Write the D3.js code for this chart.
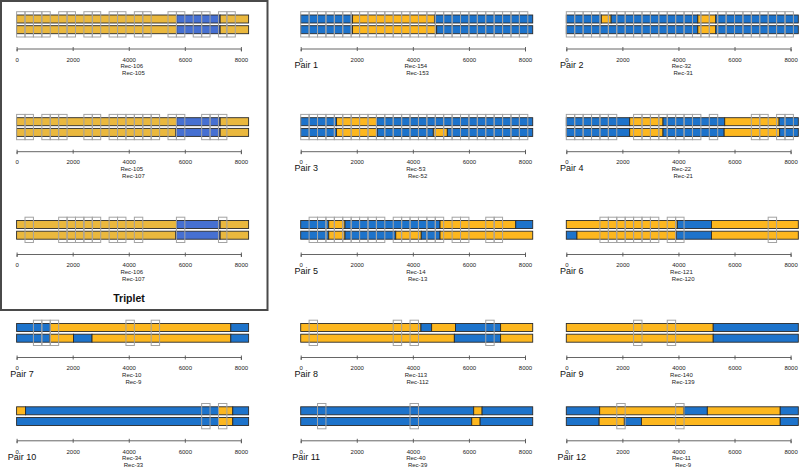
<!DOCTYPE html>
<html><head><meta charset="utf-8">
<script src="https://cdn.jsdelivr.net/npm/d3@7"></script>
<style>
body{margin:0;background:#fff}
svg{display:block;background:#fff}
text{font-family:"Liberation Sans",Arial,Helvetica,sans-serif}
</style>
</head><body><svg id="c" width="799" height="468"></svg>
<script>
// ---------------- data ----------------
const genomeLength = 8275;
const windowSize = 300;
const tickValues = [0, 2000, 4000, 6000, 8000];
const panelTitles = ["", "Pair 1", "Pair 2", "", "Pair 3", "Pair 4", "", "Pair 5", "Pair 6",
                     "Pair 7", "Pair 8", "Pair 9", "Pair 10", "Pair 11", "Pair 12"];
const seqTop    = ["Rec-106","Rec-154","Rec-32","Rec-105","Rec-53","Rec-22","Rec-106","Rec-14","Rec-121",
                   "Rec-10","Rec-113","Rec-140","Rec-34","Rec-40","Rec-11"];
const seqBottom = ["Rec-105","Rec-153","Rec-31","Rec-107","Rec-52","Rec-21","Rec-107","Rec-13","Rec-120",
                   "Rec-9","Rec-112","Rec-139","Rec-33","Rec-39","Rec-9"];
const tripletPanels = [0, 3, 6];
const tripletTitle = "Triplet";
// first segment subtype of each track (Y = yellow, B = blue) and breakpoints (bp)
const topFirst    = ["Y","B","B","Y","B","B","Y","B","Y","B","Y","Y","Y","B","B"];
const bottomFirst = ["Y","B","B","Y","B","B","Y","B","B","B","Y","Y","B","B","B"];
const topBreaks = [
  [5710, 7260], [1850, 4770], [1250, 1600, 4690, 5330],
  [5710, 7260], [1280, 2710], [2260, 3450, 5650, 7590],
  [5710, 7260], [1000, 1580, 4970, 7670], [3960, 5180],
  [1200, 7640], [4290, 4670, 5520, 7130], [5240],
  [320, 7200, 7710], [6170, 6470], [1190, 4200, 5030, 7630]
];
const bottomBreaks = [
  [5710, 7260], [1850, 4850], [4690, 5330],
  [5680, 7260], [1280, 2730, 4730, 5230], [2260, 3450, 5630, 7610],
  [5680, 7260], [1000, 1580, 3390, 4300, 4970], [380, 3930, 5180],
  [1180, 2030, 2690, 7640], [5480, 7130], [5240],
  [7200, 7710], [6100, 6400], [1170, 2070, 2680, 7630]
];
// window indices (window k spans k*300 .. k*300+300)
const windowIdx = [
  [0,1,2,3,5,6,8,9,11,12,14,15,18,19,21,22,24,25],
  [0,1,2,3,4,5,6,7,8,9,10,11,12,13,14,15,16,17,18,19,20,21,22,23,24,25,26],
  [0,1,2,3,4,5,6,7,8,9,10,11,12,13,14,15,16,17,18,19,20,21,22,23,24,25,26],
  [0,1,3,4,5,8,9,11,12,13,14,15,16,18,19,22,23,24],
  [0,1,2,3,4,5,6,7,8,9,10,11,12,13,14,15,16,17,18,19,20,21,22,23,24,25,26],
  [0,1,2,3,4,5,8,9,10,11,12,13,14,15,17,22,23,25,26],
  [1,5,6,7,8,9,11,12,14,19,24],
  [1,2,3,4,5,6,7,8,9,11,12,13,14,15,16,18,19,22,23],
  [4,5,6,7,8,9,10,12,13,24],
  [2,3,4,13,16],
  [1,11,13,22],
  [8,12],
  [22,24],
  [2,13],
  [6,13]
];

// ---------------- layout / style ----------------
const colX0 = [16.6, 300.7, 566.3];
const axisW = 224.3;              // pixels for 0..8000
const rowAxisY = [48.5, 151.2, 254, 357, 440.3];
const pairColors = {Y: "#FDB71F", B: "#1D73CB"};
const tripColors = {Y: "#EAB83E", B: "#4670D2"};

const svg = d3.select("#c");
svg.append("rect").attr("width", 799).attr("height", 468).attr("fill", "#fff");

panelTitles.forEach((title, i) => {
  const row = Math.floor(i / 3), col = i % 3;
  const A = rowAxisY[row];
  const x = d3.scaleLinear().domain([0, 8000]).range([colX0[col], colX0[col] + axisW]);
  const isTrip = tripletPanels.includes(i);
  const pal = isTrip ? tripColors : pairColors;
  const g = svg.append("g");

  const tracks = [
    {y: A - 33.5, first: topFirst[i], br: topBreaks[i]},
    {y: A - 22.8, first: bottomFirst[i], br: bottomBreaks[i]}
  ];
  const th = 8;
  tracks.forEach(t => {
    const edges = [0, ...t.br, genomeLength];
    const segs = d3.pairs(edges).map((p, j) => ({
      s: p[0], e: p[1],
      c: (j % 2 === 0) ? t.first : (t.first === "Y" ? "B" : "Y")
    }));
    g.selectAll(null).data(segs).enter().append("rect")
      .attr("x", d => x(d.s)).attr("width", d => x(d.e) - x(d.s))
      .attr("y", t.y).attr("height", th)
      .attr("fill", d => pal[d.c])
      .attr("stroke", "#2a2a2a").attr("stroke-width", 0.9);
  });

  // windows
  g.selectAll(null).data(windowIdx[i]).enter().append("rect")
    .attr("x", k => x(k * windowSize))
    .attr("width", k => x((k + 1) * windowSize) - x(k * windowSize))
    .attr("y", A - 36.8).attr("height", 25.3)
    .attr("fill", "none").attr("stroke", "#a3a3a3").attr("stroke-width", 1);

  // axis
  const ax = g.append("g").attr("transform", `translate(0,${A})`)
    .call(d3.axisBottom(x).tickValues(tickValues).tickSizeOuter(0).tickSize(3).tickPadding(6)
      .tickFormat(d3.format("d")));
  ax.select(".domain").attr("stroke", "#555").attr("stroke-width", 0.9);
  ax.selectAll(".tick line").attr("stroke", "#555").attr("stroke-width", 0.9)
    .attr("y1", -1.5).attr("y2", 2.5);
  ax.selectAll(".tick text").attr("font-size", 6).attr("fill", "#222")
    .attr("font-family", '"Liberation Sans",Arial,sans-serif');

  // record labels
  const cx = x(genomeLength / 2);
  g.append("text").attr("x", cx - 0.85).attr("y", A + 19.6).attr("text-anchor", "middle")
    .attr("font-size", 6).attr("fill", "#222").text(seqTop[i]);
  g.append("text").attr("x", cx + 0.85).attr("y", A + 26.6).attr("text-anchor", "middle")
    .attr("font-size", 6).attr("fill", "#222").text(seqBottom[i]);

  if (title) {
    g.append("text").attr("x", colX0[col] + 5.5).attr("y", A + 19.6).attr("text-anchor", "middle")
      .attr("font-size", 9).attr("fill", "#111").text(title);
  }
});

// triplet frame and title
svg.append("rect").attr("x", 1).attr("y", 1).attr("width", 266.5).attr("height", 309)
  .attr("fill", "none").attr("stroke", "#4a4a4a").attr("stroke-width", 2);
svg.append("text").attr("x", 129).attr("y", 301.5).attr("text-anchor", "middle")
  .attr("font-size", 10.5).attr("font-weight", "bold").attr("fill", "#111").text(tripletTitle);
</script>
</body></html>
